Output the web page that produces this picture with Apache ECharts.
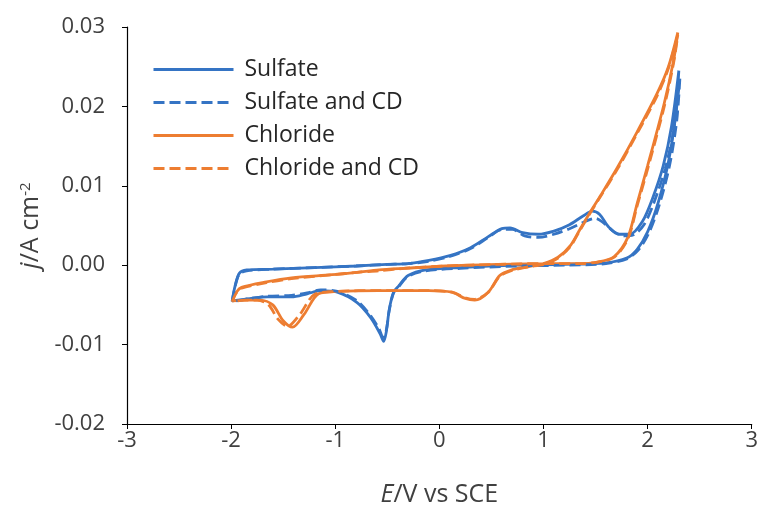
<!DOCTYPE html>
<html>
<head>
<meta charset="utf-8">
<script src="https://cdn.jsdelivr.net/npm/echarts@6/dist/echarts.min.js"></script>
<style>
  html, body { margin: 0; padding: 0; background: #fff; }
  #chart { width: 761px; height: 512px; }
</style>
</head>
<body>
<div id="chart"></div>
<script>
// Cyclic voltammograms: [potential E (V vs SCE), current density j (A cm^-2)], in sweep order
const sulfate = [
  [-1.99, -0.0045], [-1.96, -0.0025], [-1.92, -0.0010], [-1.85, -0.0006], [-1.6, -0.0005],
  [-1.2, -0.0003], [-0.8, -0.0001], [-0.5, 0.0001], [-0.3, 0.0002], [-0.1, 0.0006],
  [0.1, 0.0012], [0.3, 0.0022], [0.47, 0.0036], [0.6, 0.0046], [0.68, 0.0047],
  [0.8, 0.0041], [0.95, 0.0039], [1.1, 0.0043], [1.25, 0.0051], [1.38, 0.0062],
  [1.47, 0.0068], [1.54, 0.0064], [1.62, 0.0049], [1.72, 0.0039], [1.83, 0.0039],
  [1.95, 0.0055], [2.05, 0.0085], [2.15, 0.0125], [2.23, 0.0175], [2.3, 0.0245],
  [2.27, 0.0190], [2.2, 0.0130], [2.1, 0.0078], [2.0, 0.0042], [1.9, 0.0020],
  [1.8, 0.0009], [1.6, 0.0003], [1.2, 0.0001], [0.75, 0.0000], [0.2, -0.0003],
  [-0.13, -0.0006], [-0.3, -0.0013], [-0.39, -0.0026], [-0.44, -0.0034], [-0.48, -0.0055],
  [-0.51, -0.0084], [-0.535, -0.0096], [-0.57, -0.0086], [-0.66, -0.0066], [-0.79, -0.0047],
  [-0.98, -0.0034], [-1.14, -0.0032], [-1.27, -0.0036], [-1.42, -0.0040], [-1.65, -0.0040],
  [-1.82, -0.0042], [-1.99, -0.0045]
];
const sulfateCD = [
  [-1.99, -0.0046], [-1.96, -0.0026], [-1.92, -0.0011], [-1.85, -0.0007], [-1.6, -0.0005],
  [-1.2, -0.0003], [-0.8, -0.0001], [-0.5, 0.0001], [-0.3, 0.0002], [-0.1, 0.0005],
  [0.1, 0.0011], [0.3, 0.0021], [0.47, 0.0035], [0.6, 0.0045], [0.7, 0.0045],
  [0.82, 0.0037], [0.95, 0.0035], [1.1, 0.0039], [1.25, 0.0046], [1.4, 0.0055],
  [1.5, 0.0059], [1.58, 0.0053], [1.68, 0.0042], [1.78, 0.0037], [1.86, 0.0038],
  [1.97, 0.0052], [2.07, 0.0082], [2.17, 0.0122], [2.25, 0.0170], [2.31, 0.0235],
  [2.28, 0.0182], [2.21, 0.0125], [2.11, 0.0075], [2.01, 0.0040], [1.91, 0.0019],
  [1.8, 0.0008], [1.6, 0.0002], [1.2, 0.0000], [0.75, -0.0001], [0.2, -0.0004],
  [-0.13, -0.0007], [-0.3, -0.0014], [-0.39, -0.0027], [-0.44, -0.0035], [-0.48, -0.0056],
  [-0.51, -0.0082], [-0.54, -0.0091], [-0.58, -0.0080], [-0.67, -0.0062], [-0.8, -0.0044],
  [-0.98, -0.0033], [-1.14, -0.0031], [-1.27, -0.0035], [-1.42, -0.0038], [-1.65, -0.0039],
  [-1.82, -0.0042], [-1.99, -0.0046]
];
const chloride = [
  [-1.99, -0.0045], [-1.95, -0.0034], [-1.9, -0.0028], [-1.66, -0.0021], [-1.42, -0.0016],
  [-1.03, -0.0012], [-0.79, -0.0009], [-0.58, -0.0006], [-0.34, -0.0004], [0.06, -0.0001],
  [0.56, 0.0001], [1.0, 0.0002], [1.33, 0.0002], [1.52, 0.0004], [1.68, 0.0011],
  [1.81, 0.0035], [1.9, 0.0078], [2.0, 0.0125], [2.16, 0.0204], [2.25, 0.0258],
  [2.29, 0.0293], [2.2, 0.0250], [2.09, 0.0216], [1.9, 0.0168], [1.71, 0.0123],
  [1.55, 0.0088], [1.45, 0.0067], [1.35, 0.0045], [1.26, 0.0025], [1.14, 0.0010],
  [1.0, 0.0002], [0.85, -0.0002], [0.69, -0.0006], [0.58, -0.0013], [0.47, -0.0034],
  [0.34, -0.0044], [0.25, -0.0042], [0.12, -0.0034], [-0.1, -0.0032], [-0.58, -0.0032],
  [-0.97, -0.0033], [-1.16, -0.0036], [-1.3, -0.0062], [-1.41, -0.0078], [-1.5, -0.0070],
  [-1.6, -0.0050], [-1.72, -0.0044], [-1.85, -0.0044], [-1.99, -0.0045]
];
const chlorideCD = [
  [-1.99, -0.0046], [-1.95, -0.0035], [-1.9, -0.0029], [-1.66, -0.0022], [-1.42, -0.0017],
  [-1.03, -0.0012], [-0.79, -0.0009], [-0.58, -0.0007], [-0.34, -0.0004], [0.06, -0.0001],
  [0.56, 0.0001], [1.0, 0.0002], [1.33, 0.0002], [1.52, 0.0004], [1.68, 0.0010],
  [1.81, 0.0033], [1.9, 0.0075], [2.0, 0.0121], [2.16, 0.0200], [2.25, 0.0255],
  [2.29, 0.0290], [2.2, 0.0248], [2.09, 0.0213], [1.9, 0.0166], [1.71, 0.0121],
  [1.55, 0.0087], [1.45, 0.0066], [1.35, 0.0044], [1.26, 0.0024], [1.14, 0.0009],
  [1.0, 0.0001], [0.85, -0.0002], [0.69, -0.0007], [0.58, -0.0014], [0.47, -0.0034],
  [0.34, -0.0043], [0.25, -0.0041], [0.12, -0.0034], [-0.1, -0.0032], [-0.58, -0.0032],
  [-0.97, -0.0033], [-1.2, -0.0037], [-1.34, -0.0062], [-1.46, -0.0077], [-1.55, -0.0068],
  [-1.64, -0.0050], [-1.75, -0.0044], [-1.87, -0.0044], [-1.99, -0.0046]
];

const seriesNames = ['Sulfate', 'Sulfate and CD', 'Chloride', 'Chloride and CD'];
const xTicks = { min: -3, max: 3, step: 1 };
const yTicks = { min: -0.02, max: 0.03, step: 0.01 };

const BLUE = '#3574c4';
const ORANGE = '#ed7d31';
const FONT = '"Open Sans", "Liberation Sans", sans-serif';
const TEXT = '#404040';

function cv(name, data, color, dashed) {
  return {
    name: name,
    type: 'line',
    data: data,
    symbol: 'none',
    smooth: 0.3,
    lineStyle: { color: color, width: 2.8, type: dashed ? [11, 5] : 'solid' },
    itemStyle: { color: color },
    z: dashed ? 3 : 2
  };
}

const chart = echarts.init(document.getElementById('chart'), null, { renderer: 'canvas' });
chart.setOption({
  animation: false,
  backgroundColor: '#ffffff',
  grid: { left: 127, right: 6, top: 27, bottom: 88, containLabel: false },
  legend: {
    orient: 'vertical',
    left: 147,
    top: 53,
    itemWidth: 80,
    itemHeight: 14,
    itemGap: 10,
    data: seriesNames,
    itemStyle: { opacity: 0 },
    lineStyle: { width: 3 },
    textStyle: { fontFamily: FONT, fontSize: 23, color: '#262626', padding: [0, 0, 0, 6] }
  },
  xAxis: {
    type: 'value',
    min: xTicks.min, max: xTicks.max, interval: xTicks.step,
    axisLine: { onZero: false, lineStyle: { color: '#000', width: 1.2 } },
    axisTick: { show: true, length: 5, lineStyle: { color: '#000' } },
    splitLine: { show: false },
    axisLabel: { fontFamily: FONT, fontSize: 22, color: TEXT, margin: 6 },
    name: '{i|E}/V vs SCE',
    nameLocation: 'middle',
    nameGap: 58,
    nameTextStyle: {
      fontFamily: FONT, fontSize: 25, color: TEXT,
      rich: { i: { fontFamily: FONT, fontSize: 25, fontStyle: 'italic', color: TEXT } }
    }
  },
  yAxis: {
    type: 'value',
    min: yTicks.min, max: yTicks.max, interval: yTicks.step,
    axisLine: { show: true, onZero: false, lineStyle: { color: '#000', width: 1.2 } },
    axisTick: { show: true, length: 5, lineStyle: { color: '#000' } },
    splitLine: { show: false },
    axisLabel: {
      fontFamily: FONT, fontSize: 22, color: TEXT, margin: 22,
      formatter: function (v) { return v.toFixed(2); }
    },
    name: '{i|j}/A cm{s|-2}',
    nameLocation: 'middle',
    nameGap: 76,
    nameTextStyle: {
      fontFamily: FONT, fontSize: 25, color: TEXT,
      rich: {
        i: { fontFamily: FONT, fontSize: 25, fontStyle: 'italic', color: TEXT },
        s: { fontFamily: FONT, fontSize: 15, color: TEXT, verticalAlign: 'top', padding: [0, 0, 10, 0] }
      }
    }
  },
  series: [
    cv(seriesNames[0], sulfate, BLUE, false),
    cv(seriesNames[1], sulfateCD, BLUE, true),
    cv(seriesNames[2], chloride, ORANGE, false),
    cv(seriesNames[3], chlorideCD, ORANGE, true)
  ]
});
</script>
</body>
</html>
